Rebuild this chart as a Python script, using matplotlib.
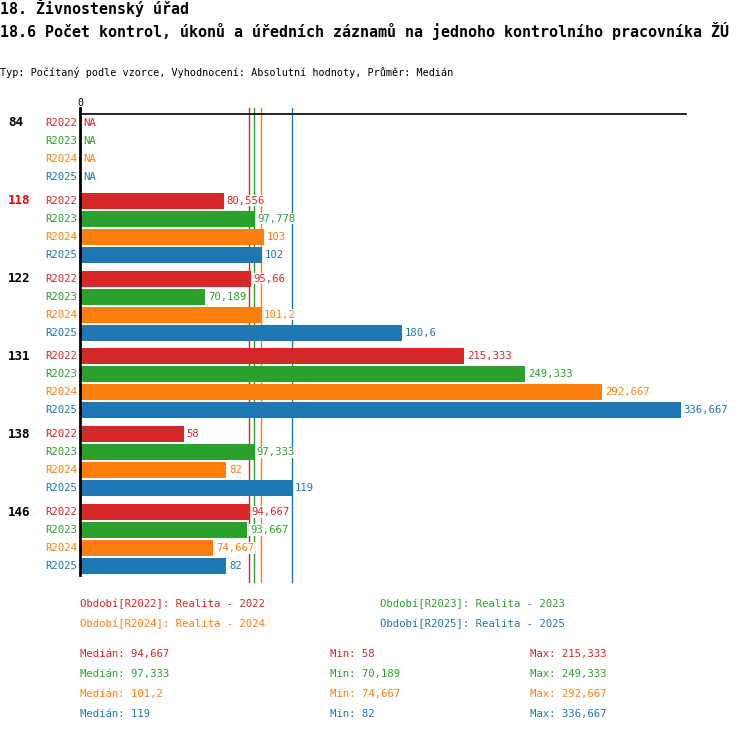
import numpy as np
import matplotlib
matplotlib.use('Agg')
import matplotlib.pyplot as plt

plt.rcParams['font.family'] = ['DejaVu Sans Mono']

# data
skupiny = ['84', '118', '122', '131', '138', '146']
obdobi = ['R2022', 'R2023', 'R2024', 'R2025']
barvy = ['#d62728', '#2ca02c', '#ff7f0e', '#1f77b4']
hodnoty = {
    'R2022': [np.nan, 80.556, 95.66, 215.333, 58, 94.667],
    'R2023': [np.nan, 97.778, 70.189, 249.333, 97.333, 93.667],
    'R2024': [np.nan, 103, 101.2, 292.667, 82, 74.667],
    'R2025': [np.nan, 102, 180.6, 336.667, 119, 82],
}
popisky_obdobi = ['Období[R2022]: Realita - 2022', 'Období[R2023]: Realita - 2023',
                  'Období[R2024]: Realita - 2024', 'Období[R2025]: Realita - 2025']
zvyraznena = '118'


def fmt(v):
    # ceske desetinne cislo
    if np.isnan(v):
        return 'NA'
    s = f'{v:.3f}'.rstrip('0').rstrip('.')
    return s.replace('.', ',')


W, H = 750, 732
fig = plt.figure(figsize=(W / 100, H / 100), dpi=100)

# osa v pixelech: nula na x=80, 1.785 px na jednotku
px_per = 1.785
left, right, top, bottom = 80, 730, 114, 582
ax = fig.add_axes([left / W, 1 - bottom / H, (right - left) / W, (bottom - top) / H])
ax.set_xlim(0, (right - left) / px_per)
nrad = (bottom - top) / 18
ax.set_ylim(nrad, 0)
ax.axis('off')

krok = 77.8 / 18
fs = 7.7
for g, sk in enumerate(skupiny):
    for j, ob in enumerate(obdobi):
        y = 0.5 + g * krok + j
        v = hodnoty[ob][g]
        if not np.isnan(v):
            ax.barh(y, v, height=16 / 18, color=barvy[j], zorder=2)
            xv = v
        else:
            xv = 0
        ax.annotate(fmt(v), (xv, y), xytext=(2, 0), textcoords='offset points',
                    ha='left', va='center', color=barvy[j], fontsize=fs, zorder=4,
                    bbox=dict(boxstyle='square,pad=0.05', fc='white', ec='none'),
                    annotation_clip=False)
        ax.annotate(ob, (0, y), xytext=(-2, 0), textcoords='offset points',
                    ha='right', va='center', color=barvy[j], fontsize=fs,
                    annotation_clip=False)
    ax.text(-72 / px_per, 0.5 + g * krok, sk, ha='left', va='center', fontsize=9,
            fontweight='bold', color='red' if sk == zvyraznena else 'black')

# medianove cary
for j, ob in enumerate(obdobi):
    m = np.nanmedian(hodnoty[ob])
    ax.plot([m, m], [-6 / 18, nrad], color=barvy[j], lw=1, zorder=1, clip_on=False)

# osy
ax.plot([0, 606 / px_per], [0, 0], color='black', lw=1.2, zorder=3, clip_on=False)
ax.plot([0, 0], [-6 / 18, nrad - 7 / 18], color='black', lw=2, zorder=3, clip_on=False)
ax.text(0, -6 / 18, '0', ha='center', va='bottom', fontsize=fs - 0.5, clip_on=False)

# nadpisy
fig.text(0, 1 - 8 / H, '18. Živnostenský úřad', ha='left', va='center',
         fontsize=10.8, fontweight='bold')
fig.text(0, 1 - 31 / H,
         '18.6 Počet kontrol, úkonů a úředních záznamů na jednoho kontrolního pracovníka ŽÚ',
         ha='left', va='center', fontsize=10.8, fontweight='bold')
fig.text(0, 1 - 73 / H,
         'Typ: Počítaný podle vzorce, Vyhodnocení: Absolutní hodnoty, Průměr: Medián',
         ha='left', va='center', fontsize=7.3)

# legenda
for j, txt in enumerate(popisky_obdobi):
    x = 80 if j % 2 == 0 else 380
    y = 604 + (j // 2) * 20
    fig.text(x / W, 1 - y / H, txt, ha='left', va='center', fontsize=fs, color=barvy[j])

# statistiky
for j, ob in enumerate(obdobi):
    arr = np.array(hodnoty[ob], dtype=float)
    y = 654 + j * 20
    fig.text(80 / W, 1 - y / H, 'Medián: ' + fmt(np.nanmedian(arr)), ha='left',
             va='center', fontsize=fs, color=barvy[j])
    fig.text(330 / W, 1 - y / H, 'Min: ' + fmt(np.nanmin(arr)), ha='left',
             va='center', fontsize=fs, color=barvy[j])
    fig.text(530 / W, 1 - y / H, 'Max: ' + fmt(np.nanmax(arr)), ha='left',
             va='center', fontsize=fs, color=barvy[j])

fig.savefig('out.png', dpi=100)
